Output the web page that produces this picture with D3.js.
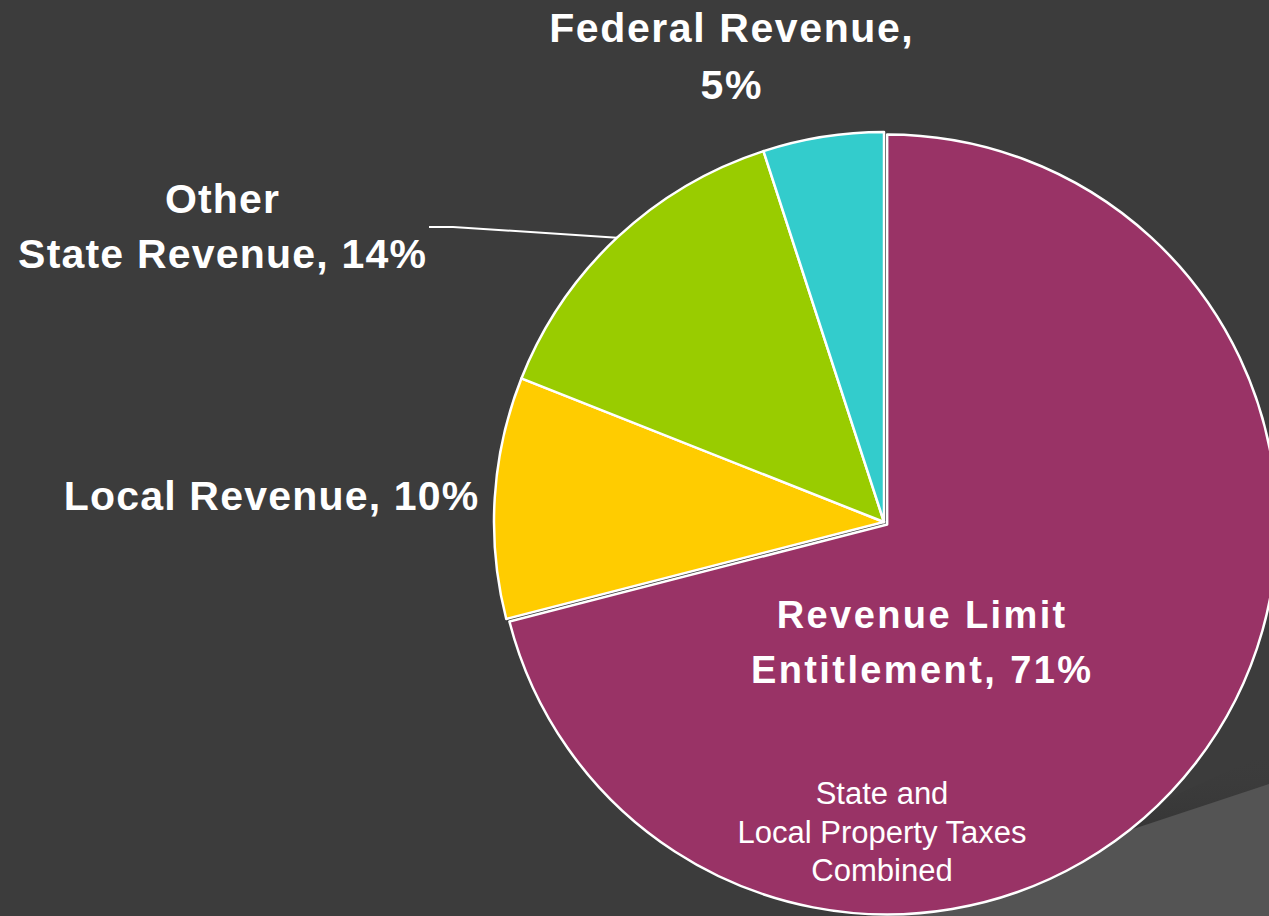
<!DOCTYPE html>
<html>
<head>
<meta charset="utf-8">
<script src="https://cdn.jsdelivr.net/npm/d3@7"></script>
<style>
  html, body { margin: 0; padding: 0; background: #3c3c3c; }
  svg { display: block; }
</style>
</head>
<body>
<script>
// ---- data ----
const categories = ["Revenue Limit Entitlement", "Local Revenue", "Other State Revenue", "Federal Revenue"];
const values = [71, 10, 14, 5];
const palette = ["#993366", "#FFCC00", "#99CC00", "#33CCCC"];
const labelLines = [
  ["Revenue Limit", "Entitlement, 71%"],
  ["Local Revenue, 10%"],
  ["Other", "State Revenue, 14%"],
  ["Federal Revenue,", "5%"]
];
const noteLines = ["State and", "Local Property Taxes", "Combined"];

const W = 1269, H = 916;
const cx = 884, cy = 522, R = 390;

const svg = d3.select("body").append("svg")
  .attr("width", W).attr("height", H);

const defs = svg.append("defs");
const grad = defs.append("linearGradient")
  .attr("id", "shade").attr("x1", 0).attr("y1", 1).attr("x2", 0).attr("y2", 0);
grad.append("stop").attr("offset", "0%").attr("stop-color", "#2a2a2a").attr("stop-opacity", 0.9);
grad.append("stop").attr("offset", "100%").attr("stop-color", "#3c3c3c").attr("stop-opacity", 0);

// background
svg.append("rect").attr("width", W).attr("height", H).attr("fill", "#3c3c3c");
// decorative theme shapes
svg.append("path")
  .attr("d", "M1000,876 L1269,752 L1269,784 L1100,845 Z")
  .attr("fill", "url(#shade)");
svg.append("path")
  .attr("d", "M870,916 L1269,784 L1269,916 Z")
  .attr("fill", "#545454");

// pie
const pie = d3.pie().sort(null).value(d => d.value).startAngle(0).endAngle(2 * Math.PI);
const arcs = pie(categories.map((c, i) => ({ name: c, value: values[i], i })));
const arc = d3.arc().innerRadius(0).outerRadius(R);

const g = svg.append("g").attr("transform", `translate(${cx},${cy})`);
const explode = 4;
g.selectAll("path.slice")
  .data(arcs)
  .join("path")
  .attr("class", "slice")
  .attr("d", arc)
  .attr("transform", d => {
    if (d.data.i !== 0) return null;
    const a = (d.startAngle + d.endAngle) / 2;
    return `translate(${Math.sin(a) * explode},${-Math.cos(a) * explode})`;
  })
  .attr("fill", d => palette[d.data.i])
  .attr("stroke", "#ffffff")
  .attr("stroke-width", 2.5)
  .attr("stroke-linejoin", "round");

// leader line for Other State Revenue (ends at slice mid-angle on the rim)
const lead = arcs[2];
const leadAngle = (lead.startAngle + lead.endAngle) / 2;
const lx = cx + Math.sin(leadAngle) * R, ly = cy - Math.cos(leadAngle) * R;
svg.append("path")
  .attr("d", `M429,227 L453,227 L${lx},${ly}`)
  .attr("fill", "none").attr("stroke", "#ffffff").attr("stroke-width", 2);

// labels
const font = "'Liberation Sans', Arial, Helvetica, sans-serif";
function label(lines, x, y0, dy, size, spacing, weight) {
  const t = svg.append("text")
    .attr("fill", "#ffffff")
    .attr("font-family", font)
    .attr("font-weight", weight)
    .attr("font-size", size)
    .attr("letter-spacing", spacing)
    .attr("text-anchor", "middle");
  lines.forEach((s, k) => {
    t.append("tspan").attr("x", x + spacing / 2).attr("y", y0 + k * dy).text(s);
  });
  return t;
}

label(labelLines[3], 731, 42, 57, 41, 1.6, "bold");
label(labelLines[2], 222, 213, 55, 41, 1.2, "bold");
label(labelLines[1], 271, 510, 55, 41, 1.2, "bold");
label(labelLines[0], 921, 628, 55, 38, 2.4, "bold");
label(noteLines, 882, 804, 38.5, 31, 0, "normal");
</script>
</body>
</html>
